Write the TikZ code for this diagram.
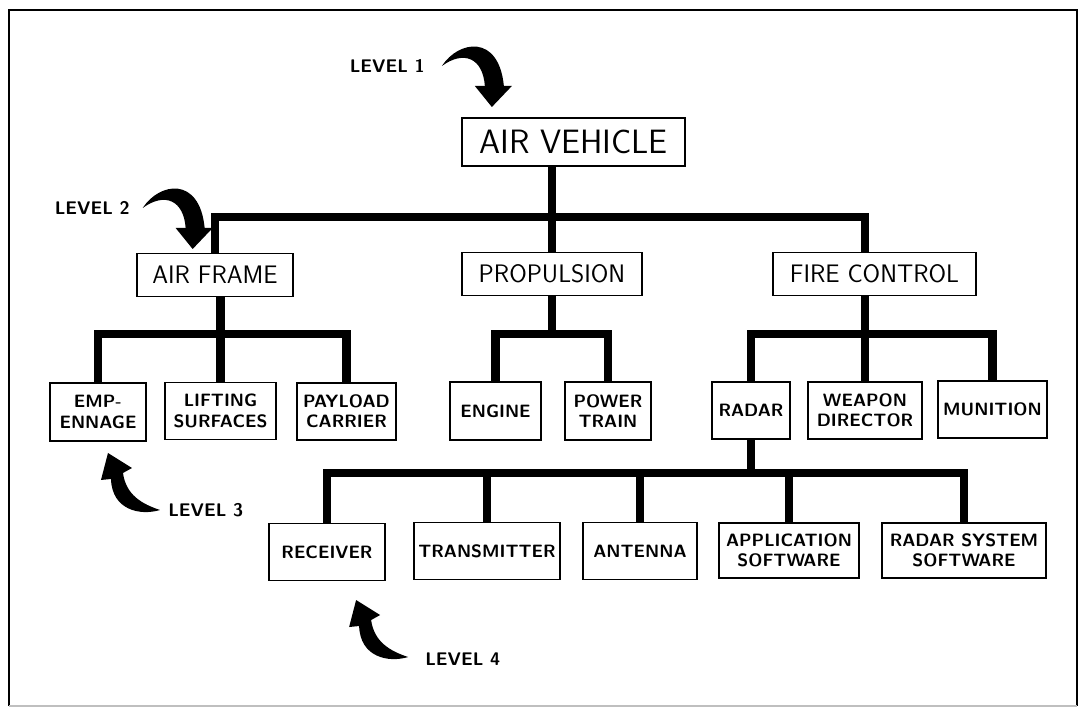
\documentclass[tikz,border=0pt]{standalone}
\usepackage{fontspec}
\begin{document}
\begin{tikzpicture}[x=0.025cm, y=-0.025cm,
  wbs/.style 2 args={draw, line width=1.4pt, inner sep=0pt, align=center,
    minimum width=#1*0.025cm, minimum height=#2*0.025cm},
  lvone/.style={font=\sffamily\fontsize{24}{28}\selectfont},
  lvtwo/.style={font=\sffamily\fontsize{18}{22}\selectfont},
  lvlow/.style={font=\sffamily\bfseries\fontsize{12.7}{14.5}\selectfont},
  levellbl/.style={font=\sffamily\bfseries\fontsize{13}{14}\selectfont, inner sep=0pt},
  link/.style={line width=5.7pt},
  lvldown/.pic={\fill (0,0) .. controls (17,-26) and (57,-32) .. (62,20) -- (70,20) -- (50,41)
    -- (33,20) -- (43,20) .. controls (41,-8) and (22,-16) .. (0,0) -- cycle;},
  lvlup/.pic={\fill (0,0) .. controls (-20,6) and (-48,0) .. (-49,-31) -- (-59,-30) -- (-52,-57)
    -- (-28,-42) -- (-37,-37) .. controls (-34,-15) and (-18,-6) .. (0,0) -- cycle;}]
\useasboundingbox (0,0) rectangle (1081,708);
\draw[line width=2pt] (9,706) |- (1077,10) -- (1077,706);
\draw[line width=1pt, black!25] (9,706) -- (1077,706);

\node[wbs={223}{48}, lvone] (av) at (573.5,142) {AIR VEHICLE};

\node[wbs={156}{43}, lvtwo] (af) at (215,275) {AIR FRAME};
\node[wbs={180}{43}, lvtwo] (prop) at (552,274) {PROPULSION};
\node[wbs={203}{43}, lvtwo] (fc) at (874.5,274) {FIRE CONTROL};

\node[wbs={96}{58}, lvlow] (emp) at (98,412) {EMP-\\ENNAGE};
\node[wbs={111}{57}, lvlow] (ls) at (220.5,411) {LIFTING\\SURFACES};
\node[wbs={99}{57}, lvlow] (pc) at (346.5,411.5) {PAYLOAD\\CARRIER};
\node[wbs={91}{58}, lvlow] (eng) at (495.5,411) {ENGINE};
\node[wbs={86}{58}, lvlow] (pt) at (608,411) {POWER\\TRAIN};
\node[wbs={78}{57}, lvlow] (rad) at (751,410.5) {RADAR};
\node[wbs={114}{57}, lvlow] (wd) at (865,410.5) {WEAPON\\DIRECTOR};
\node[wbs={109}{57}, lvlow] (mun) at (992.5,409.5) {MUNITION};

\node[wbs={116}{57}, lvlow] (rec) at (327,552) {RECEIVER};
\node[wbs={146}{57}, lvlow] (trans) at (487,551) {TRANSMITTER};
\node[wbs={114}{57}, lvlow] (ant) at (640,551) {ANTENNA};
\node[wbs={140}{55}, lvlow] (app) at (789,550.5) {APPLICATION\\SOFTWARE};
\node[wbs={164}{55}, lvlow] (rss) at (964,550.5) {RADAR SYSTEM\\SOFTWARE};

\coordinate (b1) at (0,217);
\coordinate (b2) at (0,334);
\coordinate (b3) at (0,473);

\draw[link] (av.south -| prop) -- (prop.north);
\draw[link] (af.north) |- (prop |- b1) -| (wd |- fc.north);

\draw[link] (emp.north) |- (ls |- b2) -| (pc.north);
\draw[link] (af.south -| ls) -- (ls.north);
\draw[link] (eng.north) |- (prop |- b2) -| (pt.north);
\draw[link] (prop.south) -- (prop |- b2);
\draw[link] (rad.north) |- (wd |- b2) -| (mun.north);
\draw[link] (fc.south -| wd) -- (wd.north);

\draw[link] (rec.north) |- (rad |- b3) -| (rss.north);
\draw[link] (rad.south) -- (rad |- b3);
\foreach \n in {trans, ant, app}
  \draw[link] (\n.north) -- (\n |- b3);

\node[levellbl, anchor=east] (lv1) at (425,66) {LEVEL 1};
\pic at ([xshift=12pt]lv1.east) {lvldown};
\node[levellbl, anchor=east] (lv2) at (130,208) {LEVEL 2};
\pic at ([xshift=9pt]lv2.east) {lvldown};
\node[levellbl, anchor=west] (lv3) at (168,510) {LEVEL 3};
\pic at ([xshift=-5.7pt]lv3.west) {lvlup};
\node[levellbl, anchor=west] (lv4) at (425,659) {LEVEL 4};
\pic at ([xshift=-12pt, yshift=1.4pt]lv4.west) {lvlup};
\end{tikzpicture}
\end{document}
